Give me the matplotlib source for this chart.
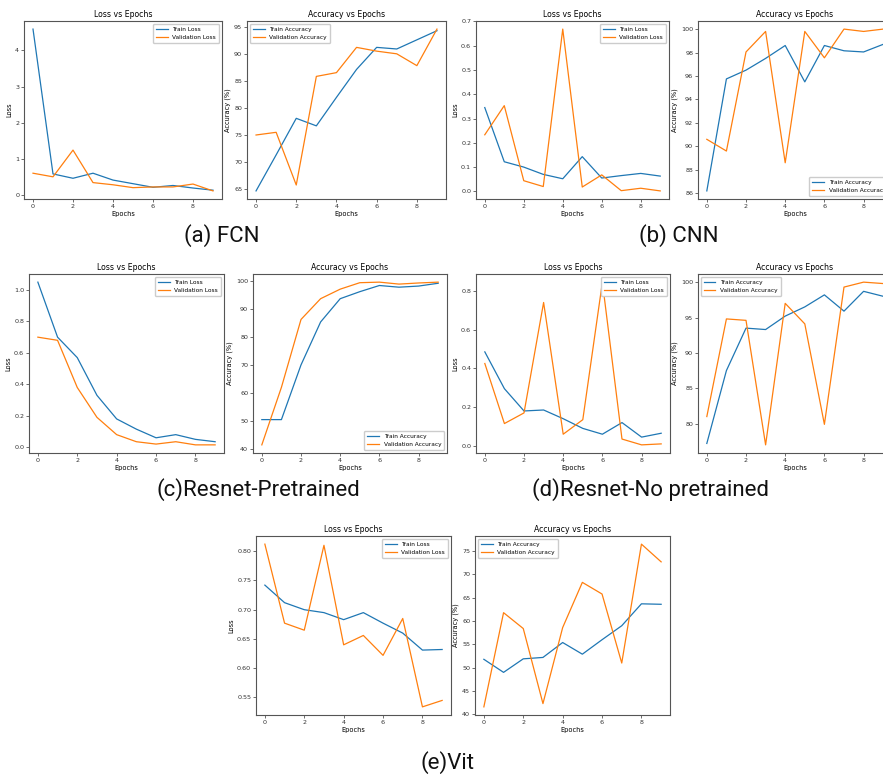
import matplotlib
matplotlib.use("Agg")
import matplotlib.pyplot as plt
import numpy as np

epochs = list(range(10))

# (a) FCN
fcn_train_loss = [4.59, 0.58, 0.46, 0.60, 0.41, 0.31, 0.21, 0.26, 0.19, 0.13]
fcn_val_loss = [0.60, 0.50, 1.24, 0.34, 0.28, 0.20, 0.22, 0.22, 0.30, 0.11]
fcn_train_acc = [64.6, 71.3, 78.1, 76.7, 82.0, 87.2, 91.3, 91.0, 92.7, 94.4]
fcn_val_acc = [75.0, 75.5, 65.7, 85.9, 86.6, 91.3, 90.6, 90.1, 87.9, 94.7]

# (b) CNN
cnn_train_loss = [0.345, 0.122, 0.100, 0.070, 0.052, 0.143, 0.055, 0.065, 0.074, 0.063]
cnn_val_loss = [0.233, 0.353, 0.044, 0.020, 0.668, 0.018, 0.068, 0.003, 0.013, 0.002]
cnn_train_acc = [86.2, 95.75, 96.5, 97.5, 98.6, 95.5, 98.6, 98.15, 98.05, 98.7]
cnn_val_acc = [90.6, 89.6, 98.05, 99.8, 88.6, 99.8, 97.55, 100.0, 99.8, 100.0]

# (c) Resnet pretrained
rp_train_loss = [1.05, 0.70, 0.57, 0.33, 0.18, 0.115, 0.06, 0.08, 0.05, 0.035]
rp_val_loss = [0.70, 0.68, 0.38, 0.19, 0.08, 0.035, 0.02, 0.035, 0.015, 0.015]
rp_train_acc = [50.5, 50.5, 70.0, 85.3, 93.6, 96.1, 98.3, 97.7, 98.1, 99.1]
rp_val_acc = [41.5, 62.0, 86.2, 93.6, 97.0, 99.3, 99.5, 98.8, 99.2, 99.5]

# (d) Resnet no pretrained
rn_train_loss = [0.485, 0.295, 0.180, 0.185, 0.140, 0.090, 0.060, 0.120, 0.045, 0.065]
rn_val_loss = [0.425, 0.115, 0.170, 0.740, 0.060, 0.135, 0.845, 0.035, 0.005, 0.010]
rn_train_acc = [77.2, 87.5, 93.5, 93.3, 95.2, 96.5, 98.2, 95.9, 98.7, 98.0]
rn_val_acc = [81.0, 94.8, 94.6, 77.0, 97.0, 94.1, 79.9, 99.3, 100.0, 99.8]

# (e) ViT
vit_train_loss = [0.742, 0.712, 0.700, 0.695, 0.683, 0.695, 0.677, 0.660, 0.631, 0.632]
vit_val_loss = [0.812, 0.677, 0.665, 0.810, 0.640, 0.656, 0.622, 0.685, 0.534, 0.545]
vit_train_acc = [51.8, 49.0, 51.9, 52.2, 55.4, 52.9, 56.0, 59.0, 63.7, 63.6]
vit_val_acc = [41.6, 61.8, 58.4, 42.3, 58.6, 68.3, 65.8, 51.0, 76.5, 72.7]

captions = ["(a) FCN", "(b) CNN", "(c)Resnet-Pretrained", "(d)Resnet-No pretrained", "(e)Vit"]

W, H = 883, 776
fig = plt.figure(figsize=(W / 100, H / 100), dpi=100)

BLUE = "#1f77b4"
ORANGE = "#ff7f0e"


def add_ax(l, t, r, b):
    return fig.add_axes([l / W, 1 - b / H, (r - l) / W, (b - t) / H])


def style(ax):
    for s in ax.spines.values():
        s.set_color("#555555")
        s.set_linewidth(0.8)
    ax.tick_params(labelsize=4.6, length=2, width=0.5, pad=1.5, colors="#333333")
    ax.set_xticks([0, 2, 4, 6, 8])


def loss_plot(box, tr, va, yticks, loc="upper right"):
    ax = add_ax(*box)
    ax.plot(epochs, tr, color=BLUE, lw=0.9, label="Train Loss")
    ax.plot(epochs, va, color=ORANGE, lw=0.9, label="Validation Loss")
    ax.set_title("Loss vs Epochs", fontsize=5.6, pad=3)
    ax.set_xlabel("Epochs", fontsize=4.8, labelpad=1.5)
    ax.set_ylabel("Loss", fontsize=4.8, labelpad=2)
    ax.set_yticks(yticks)
    style(ax)
    ax.legend(loc=loc, fontsize=4.2, handlelength=2.0, borderpad=0.5, labelspacing=0.5, framealpha=1)
    return ax


def acc_plot(box, tr, va, yticks, loc="upper left"):
    ax = add_ax(*box)
    ax.plot(epochs, tr, color=BLUE, lw=0.9, label="Train Accuracy")
    ax.plot(epochs, va, color=ORANGE, lw=0.9, label="Validation Accuracy")
    ax.set_title("Accuracy vs Epochs", fontsize=5.6, pad=3)
    ax.set_xlabel("Epochs", fontsize=4.8, labelpad=1.5)
    ax.set_ylabel("Accuracy (%)", fontsize=4.8, labelpad=2)
    ax.set_yticks(yticks)
    style(ax)
    ax.legend(loc=loc, fontsize=4.2, handlelength=2.0, borderpad=0.5, labelspacing=0.5, framealpha=1)
    return ax


# Row 1
loss_plot((24, 21, 222, 199), fcn_train_loss, fcn_val_loss, [0, 1, 2, 3, 4])
acc_plot((247, 21, 446, 199), fcn_train_acc, fcn_val_acc, [65, 70, 75, 80, 85, 90, 95])
loss_plot((476, 21, 669, 199), cnn_train_loss, cnn_val_loss, np.arange(0, 0.71, 0.1))
acc_plot((698, 21, 892, 199), cnn_train_acc, cnn_val_acc, [86, 88, 90, 92, 94, 96, 98, 100], loc="lower right")

# Row 2
loss_plot((29, 274, 224, 453), rp_train_loss, rp_val_loss, [0.0, 0.2, 0.4, 0.6, 0.8, 1.0])
acc_plot((253, 274, 447, 453), rp_train_acc, rp_val_acc, [40, 50, 60, 70, 80, 90, 100], loc="lower right")
loss_plot((476, 274, 670, 453), rn_train_loss, rn_val_loss, [0.0, 0.2, 0.4, 0.6, 0.8])
acc_plot((698, 274, 892, 453), rn_train_acc, rn_val_acc, [80, 85, 90, 95, 100])

# Row 3
loss_plot((256, 536, 451, 715), vit_train_loss, vit_val_loss, [0.55, 0.60, 0.65, 0.70, 0.75, 0.80])
acc_plot((475, 536, 670, 715), vit_train_acc, vit_val_acc, [40, 45, 50, 55, 60, 65, 70, 75])

cap_font = dict(fontsize=16, family=["Roboto", "DejaVu Sans"], ha="center", va="center", color="#111111")
fig.text(222 / W, 1 - 236 / H, captions[0], **cap_font)
fig.text(679 / W, 1 - 236 / H, captions[1], **cap_font)
fig.text(258 / W, 1 - 490 / H, captions[2], **cap_font)
fig.text(650 / W, 1 - 490 / H, captions[3], **cap_font)
fig.text(448 / W, 1 - 763 / H, captions[4], **cap_font)

fig.savefig("out.png", dpi=100)
